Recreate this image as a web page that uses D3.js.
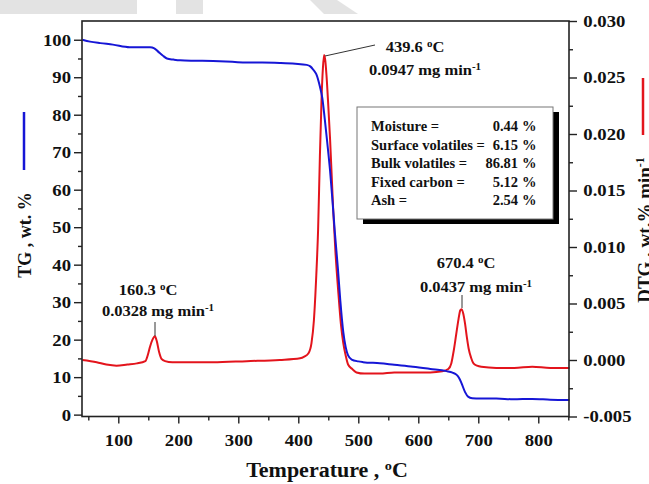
<!DOCTYPE html>
<html>
<head>
<meta charset="utf-8">
<script src="https://cdn.jsdelivr.net/npm/d3@7"></script>
<style>
  body { margin: 0; background: #fff; }
  svg text { font-family: "Liberation Serif", "Times New Roman", serif; font-weight: bold; fill: #111; }
</style>
</head>
<body>
<svg id="chart" width="649" height="484"></svg>
<script>
// TG curve (temperature, wt.%)
var tgTemp = [40, 53, 70, 91, 119, 140, 153, 160, 166, 174, 181, 192, 203, 230, 258, 290, 314, 340, 369, 395,
  414, 420, 425, 430, 436, 440, 444, 448, 453, 457, 461, 466, 470, 475, 479, 483, 489, 500, 508, 536,
  560, 591, 620, 647, 657, 664, 668, 672, 678, 683, 690, 703, 730, 758, 790, 820, 852];
var tgValue = [100.0, 99.5, 99.1, 98.7, 98.0, 98.0, 98.0, 97.7, 96.9, 95.8, 95.0, 94.7, 94.5, 94.4, 94.3, 94.1, 93.9, 93.9, 93.8, 93.6,
  93.3, 92.9, 92.0, 90.8, 87.5, 84.5, 79.0, 73.0, 65.0, 57.0, 48.5, 39.0, 30.5, 22.0, 18.0, 15.8, 14.7, 14.2, 14.0, 13.7,
  13.3, 12.8, 12.2, 11.6, 11.2, 10.6, 9.8, 8.4, 6.0, 4.8, 4.4, 4.3, 4.3, 4.1, 4.2, 4.0, 3.9];

// DTG curve (temperature, wt.% min-1)
var dtgTemp = [40, 64, 80, 97, 115, 131, 145, 150, 153, 157, 161, 164, 168, 172, 178, 190, 203, 258, 314, 369,
  403, 410, 417, 422, 426, 430, 433, 436, 439, 441, 443, 445, 447, 450, 453, 458, 462, 467, 471, 475,
  479, 483, 490, 497, 510, 536, 560, 590, 620, 640, 650, 655, 659, 663, 667, 670, 672, 675, 678, 681,
  684, 688, 692, 698, 705, 730, 760, 790, 820, 852];
var dtgValue = [0.0000, -0.0002, -0.0004, -0.0005, -0.0004, -0.0003, -0.0001, 0.0006, 0.0012, 0.0018, 0.0021, 0.0017, 0.0007, 0.0001, -0.0001, -0.0002, -0.0002, -0.0002, -0.0001, 0.0000,
  0.00015, 0.0003, 0.0006, 0.0015, 0.0035, 0.0075, 0.0115, 0.0180, 0.0235, 0.0258, 0.0270, 0.0265, 0.0252, 0.0225, 0.0195, 0.0135, 0.0095, 0.0058, 0.0032, 0.0015,
  0.0004, -0.0004, -0.0008, -0.0011, -0.0012, -0.0012, -0.0011, -0.0011, -0.0011, -0.0010, -0.0008, -0.0003, 0.0008, 0.0022, 0.0036, 0.0044, 0.0045, 0.0041, 0.0032, 0.0020,
  0.0010, 0.0002, -0.0003, -0.0005, -0.0006, -0.0007, -0.0007, -0.0006, -0.0007, -0.0007];

// tick values
var xMajor = [100, 200, 300, 400, 500, 600, 700, 800];
var xMinor = [50, 150, 250, 350, 450, 550, 650, 750, 850];
var yLeftMajor = [0, 10, 20, 30, 40, 50, 60, 70, 80, 90, 100];
var yLeftMinor = [5, 15, 25, 35, 45, 55, 65, 75, 85, 95];
var yRightMajor = [-0.005, 0.000, 0.005, 0.010, 0.015, 0.020, 0.025, 0.030];
var yRightMinor = [-0.0025, 0.0025, 0.0075, 0.0125, 0.0175, 0.0225, 0.0275];

// composition box
var compLabels = ["Moisture =", "Surface volatiles =", "Bulk volatiles =", "Fixed carbon =", "Ash ="];
var compValues = ["0.44", "6.15", "86.81", "5.12", "2.54"];

// peak annotations
var peaks = [
  {temp: "160.3", rate: "0.0328"},
  {temp: "439.6", rate: "0.0947"},
  {temp: "670.4", rate: "0.0437"}
];

var SX = 1.1; // text in the picture is a bit wide
var svg = d3.select("#chart");
var pLeft = 82, pRight = 569, pTop = 21, pBottom = 416.5;

var x = d3.scaleLinear().domain([39.5, 851.2]).range([pLeft, pRight]);
var yL = d3.scaleLinear().domain([-0.5, 105]).range([pBottom, pTop]);
var yR = d3.scaleLinear().domain([-0.005, 0.030]).range([pBottom, pTop]);

// grey bits at the top of the page
svg.append("rect").attr("x", 0).attr("y", 0).attr("width", 137).attr("height", 14).attr("fill", "#e3e3e3");
svg.append("rect").attr("x", 176).attr("y", 0).attr("width", 27).attr("height", 14).attr("fill", "#e3e3e3");
svg.append("polygon").attr("points", "310,0 337,0 358,14 324,14").attr("fill", "#e3e3e3");

// curves
var tgData = tgTemp.map(function(t, i) { return [t, tgValue[i]]; });
var dtgData = dtgTemp.map(function(t, i) { return [t, dtgValue[i]]; });

svg.append("path")
  .datum(dtgData)
  .attr("fill", "none")
  .attr("stroke", "#e3141c")
  .attr("stroke-width", 2)
  .attr("d", d3.line().x(d => x(d[0])).y(d => yR(d[1])).curve(d3.curveMonotoneX));

svg.append("path")
  .datum(tgData)
  .attr("fill", "none")
  .attr("stroke", "#1616d6")
  .attr("stroke-width", 2)
  .attr("d", d3.line().x(d => x(d[0])).y(d => yL(d[1])).curve(d3.curveMonotoneX));

// axes
function styleAxis(g) {
  g.select(".domain").remove();
  g.selectAll("line").attr("stroke", "#222").attr("stroke-width", 1.4);
  g.selectAll("text").style("font-size", "17px").attr("fill", "#111");
}

var gx = svg.append("g").attr("transform", "translate(0," + pBottom + ")")
  .call(d3.axisBottom(x).tickValues(xMajor).tickSize(7).tickPadding(10).tickFormat(d3.format("d")));
styleAxis(gx);
gx.selectAll("text").attr("transform", "scale(" + SX + ",1)");
svg.append("g").attr("transform", "translate(0," + pBottom + ")")
  .call(d3.axisBottom(x).tickValues(xMinor).tickSize(4).tickFormat(""))
  .call(styleAxis);

var gl = svg.append("g").attr("transform", "translate(" + pLeft + ",0)")
  .call(d3.axisLeft(yL).tickValues(yLeftMajor).tickSize(8).tickPadding(2).tickFormat(d3.format("d")));
styleAxis(gl);
gl.selectAll("text").attr("transform", "scale(" + SX + ",1)");
svg.append("g").attr("transform", "translate(" + pLeft + ",0)")
  .call(d3.axisLeft(yL).tickValues(yLeftMinor).tickSize(4).tickFormat(""))
  .call(styleAxis);

var gr = svg.append("g").attr("transform", "translate(" + pRight + ",0)")
  .call(d3.axisRight(yR).tickValues(yRightMajor).tickSize(8).tickPadding(5).tickFormat(d => d.toFixed(3)));
styleAxis(gr);
gr.selectAll("text").attr("transform", "scale(" + SX + ",1)");
svg.append("g").attr("transform", "translate(" + pRight + ",0)")
  .call(d3.axisRight(yR).tickValues(yRightMinor).tickSize(4).tickFormat(""))
  .call(styleAxis);

// frame
svg.append("rect")
  .attr("x", pLeft).attr("y", pTop)
  .attr("width", pRight - pLeft).attr("height", pBottom - pTop)
  .attr("fill", "none").attr("stroke", "#222").attr("stroke-width", 1.6);

// helper for text with superscripts; parts = [[text, isSup], ...]
function addText(px, py, parts, size, anchor, rot, sx) {
  var sc = sx === undefined ? SX : sx;
  var t = svg.append("text")
    .attr("transform", "translate(" + px + "," + py + ")" + (rot ? " rotate(" + rot + ")" : " scale(" + sc + ",1)"))
    .attr("text-anchor", anchor || "start")
    .style("font-size", size + "px");
  parts.forEach(function(p) {
    var s = t.append("tspan").text(p[0]);
    if (p[1]) s.attr("baseline-shift", "super").style("font-size", Math.round(size * 0.65) + "px");
  });
  return t;
}

// axis titles
addText(327, 477, [["Temperature ,  ", 0], ["o", 1], ["C", 0]], 20, "middle");
addText(31, 235, [["TG ,  wt. %", 0]], 18, "middle", -90);
svg.append("line").attr("x1", 24).attr("x2", 24).attr("y1", 112).attr("y2", 170)
  .attr("stroke", "#1616d6").attr("stroke-width", 2.5);
addText(651, 230, [["DTG , wt.% min", 0], ["-1", 1]], 19, "middle", -90);
svg.append("line").attr("x1", 643).attr("x2", 643).attr("y1", 78).attr("y2", 135)
  .attr("stroke", "#e3141c").attr("stroke-width", 2.5);

// peak labels and leaders
var peakPos = [
  {tx: 148, ty: 295, rx: 158, ry: 316, leader: [[155, 322], [155, 336]]},
  {tx: 415, ty: 52, rx: 425, ry: 75, leader: [[325, 56], [375, 45]]},
  {tx: 466, ty: 268, rx: 476, ry: 292, leader: [[462, 295], [462, 308]]}
];
peaks.forEach(function(p, i) {
  var pp = peakPos[i];
  addText(pp.tx, pp.ty, [[p.temp + " ", 0], ["o", 1], ["C", 0]], 15, "middle");
  addText(pp.rx, pp.ry, [[p.rate + " mg min", 0], ["-1", 1]], 15, "middle");
  svg.append("line")
    .attr("x1", pp.leader[0][0]).attr("y1", pp.leader[0][1])
    .attr("x2", pp.leader[1][0]).attr("y2", pp.leader[1][1])
    .attr("stroke", "#333").attr("stroke-width", 1);
});

// composition box with shadow
var bx = 357, by = 107, bw = 196, bh = 112;
svg.append("rect").attr("x", bx + 6).attr("y", by + 5).attr("width", bw).attr("height", bh).attr("fill", "#000");
svg.append("rect").attr("x", bx).attr("y", by).attr("width", bw).attr("height", bh)
  .attr("fill", "#fff").attr("stroke", "#777").attr("stroke-width", 1);
compLabels.forEach(function(lab, i) {
  var yy = 131 + i * 18.5;
  addText(371, yy, [[lab, 0]], 14.5, "start", 0, 1);
  addText(518, yy, [[compValues[i], 0]], 14.5, "end", 0, 1);
  addText(522, yy, [["%", 0]], 14.5, "start", 0, 1);
});
</script>
</body>
</html>
